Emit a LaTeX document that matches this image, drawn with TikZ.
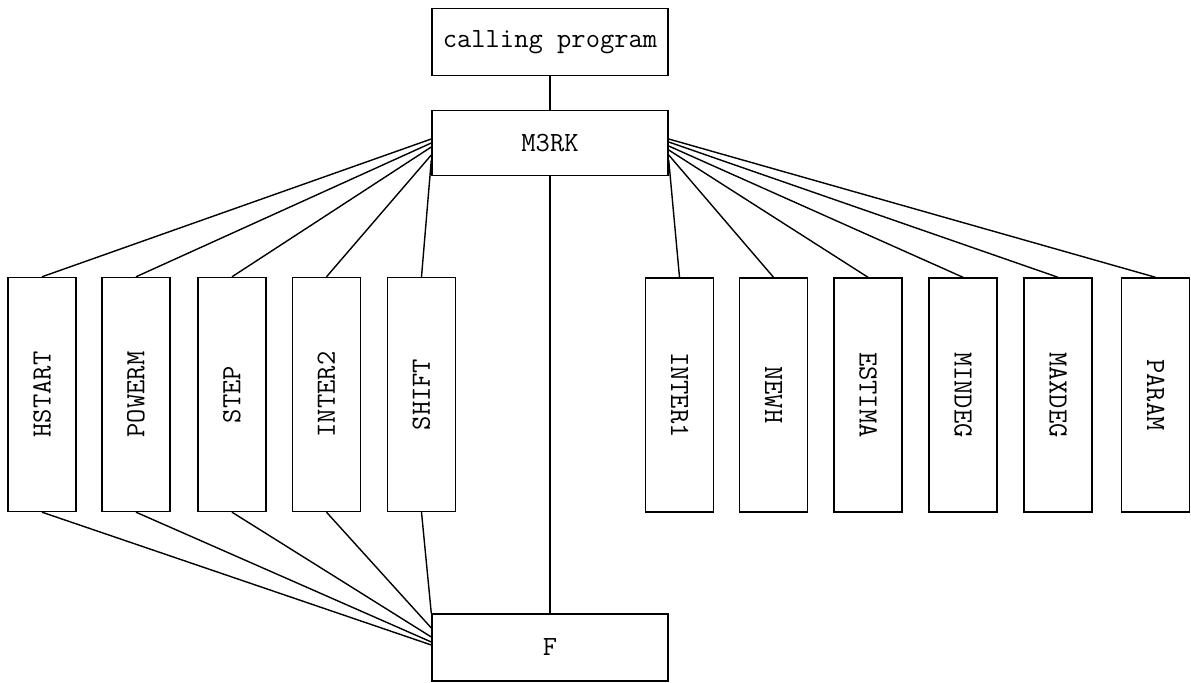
\documentclass[tikz,border=0pt]{standalone}
\usepackage{tikz}
\usetikzlibrary{calc}
\tikzstyle{progbox} = [rectangle, draw, thick, minimum width=4.72cm, minimum height=1.34cm, font=\ttfamily\fontsize{15.8}{19}\selectfont]
\tikzstyle{subbox} = [rectangle, draw, thick, minimum width=1.36cm, minimum height=4.68cm, font=\ttfamily\fontsize{15.8}{19}\selectfont]
\tikzstyle{link} = [thick]

\begin{document}
\begin{tikzpicture}
\useasboundingbox (0,0) rectangle (23.82,13.66);
% Main chain
\node[progbox] (calling) at (11.0,12.82) {calling program};
\node[progbox, minimum height=1.30cm] (m3rk) at (11.0,10.80) {M3RK};
\node[progbox] (f) at (11.0,0.71) {F};

% Left subprograms (call F)
\node[subbox] (hstart) at (0.84,5.77) {\rotatebox{90}{HSTART}};
\node[subbox] (powerm) at (2.72,5.77) {\rotatebox{90}{POWERM}};
\node[subbox] (stepr) at (4.64,5.77) {\rotatebox{90}{STEP}};
\node[subbox] (inter2) at (6.53,5.77) {\rotatebox{90}{INTER2}};
\node[subbox] (shift) at (8.43,5.77) {\rotatebox{90}{SHIFT}};

% Right subprograms
\node[subbox] (inter1) at (13.59,5.76) {\rotatebox{-90}{INTER1}};
\node[subbox] (newh) at (15.47,5.76) {\rotatebox{-90}{NEWH}};
\node[subbox] (estima) at (17.36,5.76) {\rotatebox{-90}{ESTIMA}};
\node[subbox] (mindeg) at (19.26,5.76) {\rotatebox{-90}{MINDEG}};
\node[subbox] (maxdeg) at (21.16,5.76) {\rotatebox{-90}{MAXDEG}};
\node[subbox] (param) at (23.11,5.76) {\rotatebox{-90}{PARAM}};

% Links
\draw[link] (calling.south) -- (m3rk.north);
\draw[link] (m3rk.south) -- (f.north);

\draw[link] ($(m3rk.west)+(0,0.08)$) -- (hstart.north);
\draw[link] (m3rk.west) -- (powerm.north);
\draw[link] ($(m3rk.west)+(0,-0.08)$) -- (stepr.north);
\draw[link] ($(m3rk.west)+(0,-0.24)$) -- (inter2.north);
\draw[link] ($(m3rk.west)+(0,-0.34)$) -- (shift.north);

\draw[link] ($(m3rk.east)+(0,-0.34)$) -- (inter1.north);
\draw[link] ($(m3rk.east)+(0,-0.24)$) -- (newh.north);
\draw[link] ($(m3rk.east)+(0,-0.14)$) -- (estima.north);
\draw[link] ($(m3rk.east)+(0,-0.06)$) -- (mindeg.north);
\draw[link] ($(m3rk.east)+(0,0.02)$) -- (maxdeg.north);
\draw[link] ($(m3rk.east)+(0,0.08)$) -- (param.north);

\draw[link] (hstart.south) -- ($(f.west)+(0,0.05)$);
\draw[link] (powerm.south) -- ($(f.west)+(0,0.11)$);
\draw[link] (stepr.south) -- ($(f.west)+(0,0.21)$);
\draw[link] (inter2.south) -- ($(f.west)+(0,0.39)$);
\draw[link] (shift.south) -- (f.north west);
\end{tikzpicture}
\end{document}
